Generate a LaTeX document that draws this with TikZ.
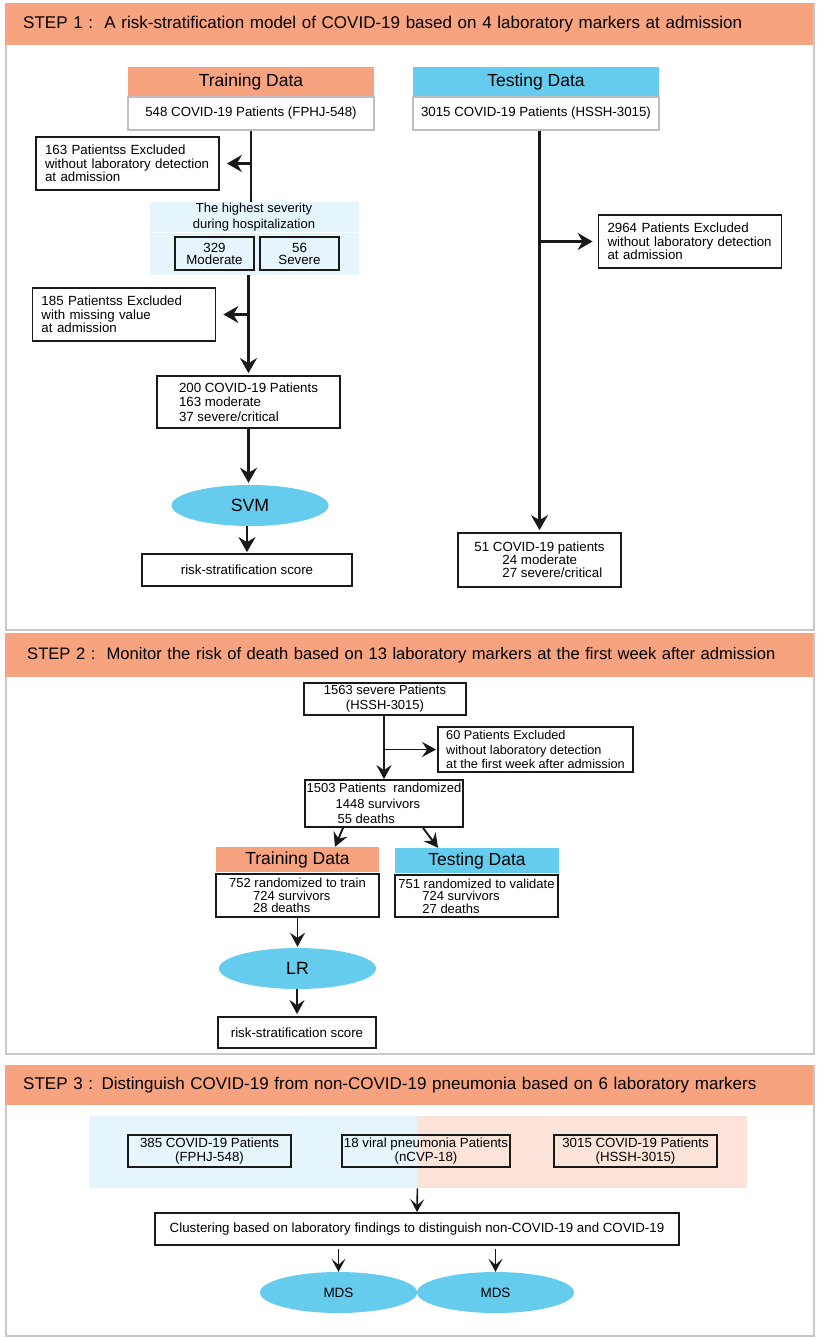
\documentclass[tikz,border=0pt]{standalone}
\usepackage{fontspec}
\setmainfont{Liberation Sans}
\usetikzlibrary{arrows.meta,shapes.geometric}

\definecolor{hdrorange}{RGB}{247,163,128}
\definecolor{hdrblue}{RGB}{102,204,238}
\definecolor{paleblue}{RGB}{230,245,252}
\definecolor{paleorange}{RGB}{253,228,218}
\definecolor{panelgray}{RGB}{200,200,200}
\definecolor{boxgray}{RGB}{190,190,190}

\tikzset{
  panel/.style={draw=panelgray, line width=1.8pt, anchor=north west, minimum width=808pt, inner sep=0pt},
  steptitle/.style={fill=hdrorange, anchor=north west, minimum width=808pt, minimum height=42pt,
    text width=796pt, inner xsep=6pt, align=left, execute at begin node={\hspace*{12pt}},
    font=\fontsize{17}{20}\selectfont},
  datahead/.style={minimum width=246pt, minimum height=30pt, inner sep=0pt, font=\fontsize{17.5}{20}\selectfont},
  cohort/.style={draw=boxgray, line width=1.5pt, fill=white, minimum width=246pt, minimum height=33pt,
    inner sep=0pt, font=\fontsize{13.3}{15}\selectfont},
  flowbox/.style={draw=black!90, line width=1.8pt, inner sep=0pt, align=center, font=\fontsize{13.3}{13.5}\selectfont},
  exclbox/.style={flowbox, align=left, inner xsep=9pt, text width=165pt, minimum height=53pt},
  model/.style={ellipse, fill=hdrblue, inner sep=0pt, minimum width=157pt, minimum height=41pt},
  flowline/.style={line width=2.1pt, black!90},
  arrA/.style={flowline, -{Stealth[length=15pt,width=17pt,inset=5pt]}},
  arrB/.style={flowline, line width=1.9pt, -{Stealth[length=14pt,width=15pt,inset=5pt]}},
  arrC/.style={flowline, line width=1.6pt, -{Stealth[length=13pt,width=14pt,inset=6pt]}},
}

\begin{document}
\begin{tikzpicture}[x=1pt,y=-1pt]
    \useasboundingbox (0,0) rectangle (818,1339);

    % Step 1
    \node[panel, minimum height=626pt] (panelA) at (5,3) {};
    \node[steptitle] (titleA) at (5,3) {STEP 1 :\ \ A risk-stratification model of COVID-19 based on 4 laboratory markers at admission};

    \node[datahead, fill=hdrorange] (trainA) at (251,82) {Training Data};
    \node[cohort] (cohortA) at (251,113.5) {548 COVID-19 Patients (FPHJ-548)};
    \node[datahead, fill=hdrblue] (testA) at (536,82) {Testing Data};
    \node[cohort] (cohortB) at (536,113.5) {3015 COVID-19 Patients (HSSH-3015)};

    \node[exclbox] (exclA) at (127.5,163.5) {163 Patientss Excluded\\without laboratory detection\\at admission};

    % severity block
    \node[fill=paleblue, minimum width=209pt, minimum height=73pt, inner sep=0pt] (sev) at (254.5,238.5) {};
    \draw[white, line width=0.8pt] (150,232) -- (359,232);
    \node[font=\fontsize{13}{16}\selectfont, align=center] (sevtext) at (254,217) {The highest severity\\during hospitalization};
    \node[flowbox, minimum width=79pt, minimum height=33pt, font=\fontsize{13.3}{12}\selectfont] (moder) at (214.5,253.5) {329\\Moderate};
    \node[flowbox, minimum width=79pt, minimum height=33pt, font=\fontsize{13.3}{12}\selectfont] (sever) at (299.5,253.5) {56\\Severe};

    \node[exclbox] (exclB) at (124,314.5) {185 Patientss Excluded\\with missing value\\at admission};
    \node[flowbox, align=left, minimum width=183pt, minimum height=52pt, font=\fontsize{13.3}{14.5}\selectfont] (trainset) at (248.5,402) {200 COVID-19 Patients\\163 moderate\\37 severe/critical};
    \node[model, font=\fontsize{17.7}{20}\selectfont] (svm) at (250,505.5) {SVM};
    \node[flowbox, minimum width=210pt, minimum height=32pt] (scoreA) at (247,570) {risk-stratification score};

    \node[exclbox] (exclC) at (690,241.5) {2964 Patients Excluded\\without laboratory detection\\at admission};
    \node[flowbox, align=left, minimum width=163pt, minimum height=54pt, font=\fontsize{13.3}{12.8}\selectfont] (testset) at (539.5,560) {51 COVID-19 patients\\\hspace*{28pt}24 moderate\\\hspace*{28pt}27 severe/critical};

    \draw[flowline] (cohortA.south) -- (cohortA.south |- sev.north);
    \draw[arrA, shorten >=7pt] (cohortA.south |- exclA.east) -- (exclA.east);
    \draw[arrA, shorten >=2pt] (trainset.north |- sev.south) -- (trainset.north);
    \draw[arrA, shorten >=7pt] (trainset.north |- exclB.east) -- (exclB.east);
    \draw[arrA, shorten >=2pt] (trainset.south) -- (trainset.south |- svm.north);
    \draw[arrA, shorten >=1pt] (svm.south -| scoreA.north) -- (scoreA.north);
    \draw[arrA, shorten >=2pt] (testset.north |- cohortB.south) -- (testset.north);
    \draw[arrA, shorten >=5pt] (testset.north |- exclC.west) -- (exclC.west);

    % Step 2
    \node[panel, minimum height=420pt] (panelB) at (5,633) {};
    \node[steptitle, minimum height=44pt, font=\fontsize{16.6}{20}\selectfont] (titleB) at (5,633) {\hspace*{4pt}STEP 2 :\ \ Monitor the risk of death based on 13 laboratory markers at the first week after admission};

    \node[flowbox, minimum width=162pt, minimum height=32pt, font=\fontsize{13}{15}\selectfont] (severe) at (385,699) {1563 severe Patients\\(HSSH-3015)};
    \node[flowbox, align=left, minimum width=195pt, minimum height=45pt, font=\fontsize{12.7}{14.5}\selectfont] (exclD) at (535.5,749.5) {60 Patients Excluded\\without laboratory detection\\at the first week after admission};
    \node[flowbox, align=left, minimum width=158pt, minimum height=47pt, font=\fontsize{13}{15.5}\selectfont] (rand) at (384,803.5) {1503 Patients\ \ randomized\\\hspace*{29pt}1448 survivors\\\hspace*{31pt}55 deaths};

    \node[datahead, minimum width=163pt, minimum height=25pt, fill=hdrorange] (trainB) at (297.5,859.5) {Training Data};
    \node[flowbox, align=left, minimum width=163pt, minimum height=43pt, font=\fontsize{13}{12.5}\selectfont] (trainsetB) at (297.5,895.5) {752 randomized to train\\\hspace*{24pt}724 survivors\\\hspace*{24pt}28 deaths};
    \node[datahead, minimum width=164pt, minimum height=25pt, fill=hdrblue] (testB) at (477,860.5) {Testing Data};
    \node[flowbox, align=left, minimum width=163pt, minimum height=42pt, font=\fontsize{13}{12.5}\selectfont] (testsetB) at (476.5,896) {751 randomized to validate\\\hspace*{24pt}724 survivors\\\hspace*{24pt}27 deaths};
    \node[model, font=\fontsize{17.7}{20}\selectfont] (lr) at (297.5,968.5) {LR};
    \node[flowbox, minimum width=158pt, minimum height=31pt] (scoreB) at (297,1032.5) {risk-stratification score};

    \draw[arrB] (rand.north |- severe.south) -- (rand.north);
    \draw[arrB, shorten >=1pt] (rand.north |- exclD.west) -- (exclD.west);
    \draw[arrB] ([xshift=-41pt]rand.south) -- ([xshift=37.5pt]trainB.north);
    \draw[arrB] ([xshift=39pt]rand.south) -- ([xshift=-39pt]testB.north);
    \draw[arrB, shorten >=1pt] (trainsetB.south) -- (lr.north);
    \draw[arrB, shorten >=2pt] (lr.south -| scoreB.north) -- (scoreB.north);

    % Step 3
    \node[panel, minimum height=270pt] (panelC) at (5,1065) {};
    \node[steptitle, minimum height=40pt] (titleC) at (5,1065) {STEP 3 : Distinguish COVID-19 from non-COVID-19 pneumonia based on 6 laboratory markers};

    \node[fill=paleblue, anchor=north west, minimum width=328pt, minimum height=72pt, inner sep=0pt] (bgL) at (89,1116) {};
    \node[fill=paleorange, anchor=north west, minimum width=330pt, minimum height=72pt, inner sep=0pt] (bgR) at (417,1116) {};
    \node[flowbox, minimum width=163pt, minimum height=32pt, font=\fontsize{13.3}{14}\selectfont] (fphj) at (209.5,1151) {385 COVID-19 Patients\\(FPHJ-548)};
    \node[flowbox, minimum width=168pt, minimum height=32pt, font=\fontsize{13.3}{14}\selectfont] (ncvp) at (426,1151) {18 viral pneumonia Patients\\(nCVP-18)};
    \node[flowbox, minimum width=163pt, minimum height=32pt, font=\fontsize{13.3}{14}\selectfont] (hssh) at (635.5,1151) {3015 COVID-19 Patients\\(HSSH-3015)};
    \node[flowbox, minimum width=524pt, minimum height=32pt] (clus) at (417,1229) {Clustering based on laboratory findings to distinguish non-COVID-19 and COVID-19};
    \node[model, font=\fontsize{13.5}{15}\selectfont] (mdsA) at (338.5,1292.5) {MDS};
    \node[model, font=\fontsize{13.5}{15}\selectfont] (mdsB) at (495.5,1292.5) {MDS};

    \draw[arrC] (bgL.south east) -- (clus.north);
    \draw[arrC] (mdsA.north |- clus.south) ++(0,3) -- (mdsA.north);
    \draw[arrC] (mdsB.north |- clus.south) ++(0,3) -- (mdsB.north);
\end{tikzpicture}
\end{document}
